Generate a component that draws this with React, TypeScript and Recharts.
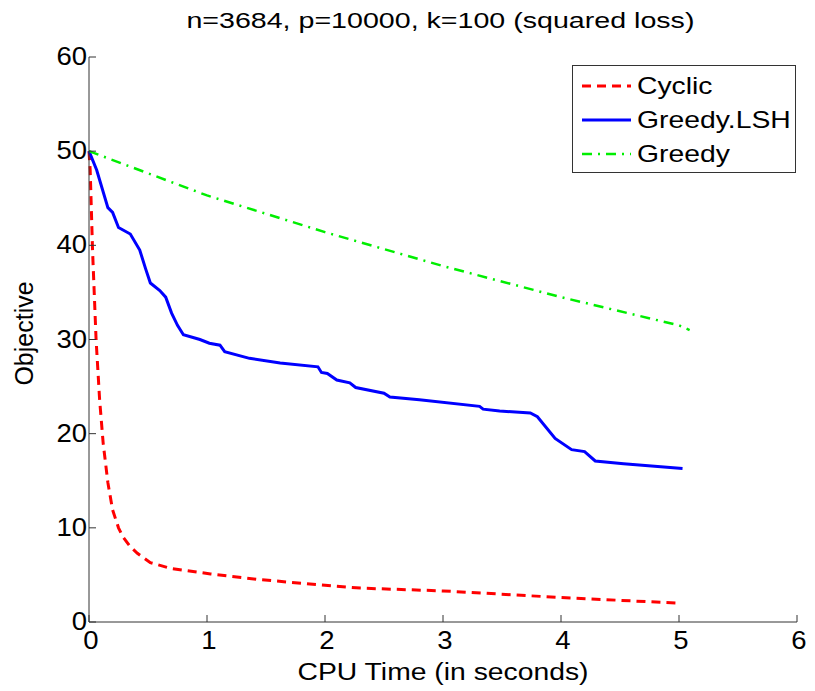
import { LineChart, Line, XAxis, YAxis, Label } from 'recharts';

const cyclicTime = [0, 0.01, 0.03, 0.06, 0.09, 0.12, 0.16, 0.2, 0.25, 0.29, 0.35, 0.41, 0.52, 0.69, 1.03, 1.45, 2.0, 2.3, 3.0, 4.0, 5.0];
const cyclicObj = [50, 48, 39.5, 30, 23.6, 19, 14.8, 11.9, 10, 9, 8, 7.3, 6.3, 5.7, 5.1, 4.5, 3.9, 3.6, 3.3, 2.6, 2.0];

const lshTime = [0, 0.065, 0.16, 0.2, 0.25, 0.35, 0.43, 0.48, 0.52, 0.6, 0.65, 0.7, 0.75, 0.8, 0.94, 1.02, 1.11, 1.15, 1.36, 1.62, 1.94, 1.97, 2.02, 2.1, 2.21, 2.26, 2.5, 2.55, 2.8, 3.31, 3.34, 3.48, 3.74, 3.8, 3.95, 4.09, 4.2, 4.29, 4.53, 5.03];
const lshObj = [50, 48, 44, 43.5, 41.9, 41.2, 39.5, 37.5, 36, 35.2, 34.5, 32.8, 31.5, 30.5, 30, 29.6, 29.4, 28.7, 28, 27.5, 27.1, 26.5, 26.4, 25.7, 25.4, 24.9, 24.3, 23.9, 23.6, 22.9, 22.6, 22.4, 22.2, 21.8, 19.5, 18.3, 18.1, 17.1, 16.8, 16.3];

const greedyTime = [0, 1, 2, 3, 4, 5, 5.09];
const greedyObj = [50, 45.3, 41.4, 37.8, 34.5, 31.5, 31];

const xTicks = [0, 1, 2, 3, 4, 5, 6];
const yTicks = [0, 10, 20, 30, 40, 50, 60];

const toRows = (xs: number[], ys: number[]) => xs.map((t, i) => ({ t, v: ys[i] }));

const series = [
    { name: 'Cyclic', color: '#ff0000', dash: '9 6', width: 3, data: toRows(cyclicTime, cyclicObj) },
    { name: 'Greedy.LSH', color: '#0000ff', dash: undefined, width: 3, data: toRows(lshTime, lshObj) },
    { name: 'Greedy', color: '#00ee00', dash: '10 6 2 6', width: 2.5, data: toRows(greedyTime, greedyObj) },
];

const font = '"Liberation Sans", Arial, sans-serif';
const stretch = 1.18; // reference text is a bit wide

function XTick({ x, y, payload }: any) {
    return (
        <text transform={`translate(${x + 2},${y + 32}) scale(1.1,1)`} textAnchor="middle" fill="#000" fontSize={25} fontFamily={font}>
            {payload.value}
        </text>
    );
}

function YTick({ x, y, payload }: any) {
    return (
        <text transform={`translate(${x - 7},${y + 8}) scale(1.1,1)`} textAnchor="end" fill="#000" fontSize={25} fontFamily={font}>
            {payload.value}
        </text>
    );
}

function XLabel({ viewBox }: any) {
    const cx = viewBox.x + viewBox.width / 2;
    return (
        <text transform={`translate(${cx},${viewBox.y + 58}) scale(${stretch},1)`} textAnchor="middle" fill="#000" fontSize={24} fontFamily={font}>
            CPU Time (in seconds)
        </text>
    );
}

function YLabel({ viewBox }: any) {
    const cy = viewBox.y + viewBox.height / 2;
    return (
        <text transform={`translate(33,${cy - 6}) rotate(-90)`} textAnchor="middle" fill="#000" fontSize={25} fontFamily={font}>
            Objective
        </text>
    );
}

function LegendBox() {
    return (
        <div style={{ position: 'absolute', left: 572, top: 65, border: '1.5px solid #333', background: '#fff', width: 224, height: 108, boxSizing: 'border-box', fontFamily: font, fontSize: 24, color: '#000', paddingTop: 3 }}>
            {series.map(s => (
                <div key={s.name} style={{ display: 'flex', alignItems: 'center', height: 34 }}>
                    <svg width={52} height={10} style={{ marginLeft: 8 }}>
                        <line x1={1} y1={5} x2={50} y2={5} stroke={s.color} strokeWidth={s.width} strokeDasharray={s.dash} />
                    </svg>
                    <span style={{ marginLeft: 4, display: 'inline-block', transform: `scaleX(${stretch})`, transformOrigin: 'left center', whiteSpace: 'nowrap' }}>{s.name}</span>
                </div>
            ))}
        </div>
    );
}

export default function App() {
    return (
        <div style={{ position: 'absolute', left: 0, top: 0, width: 815, height: 691, background: '#fff' }}>
            <div style={{ position: 'absolute', left: 0, width: 880, top: 8, textAlign: 'center', fontFamily: font, fontSize: 22, color: '#000' }}>
                <span style={{ display: 'inline-block', transform: 'scaleX(1.3)', transformOrigin: 'center', whiteSpace: 'nowrap' }}>n=3684, p=10000, k=100 (squared loss)</span>
            </div>
            <LineChart width={815} height={691} margin={{ top: 57, right: 18, bottom: 0, left: 0 }}>
                <XAxis
                    dataKey="t"
                    type="number"
                    domain={[0, 6]}
                    ticks={xTicks}
                    allowDuplicatedCategory={false}
                    height={69}
                    tickSize={-7}
                    stroke="#333"
                    tick={<XTick />}
                >
                    <Label content={<XLabel />} />
                </XAxis>
                <YAxis
                    dataKey="v"
                    type="number"
                    domain={[0, 60]}
                    ticks={yTicks}
                    width={89}
                    tickSize={-7}
                    stroke="#333"
                    tick={<YTick />}
                >
                    <Label content={<YLabel />} />
                </YAxis>
                {series.map(s => (
                    <Line
                        key={s.name}
                        name={s.name}
                        data={s.data}
                        dataKey="v"
                        type="linear"
                        stroke={s.color}
                        strokeWidth={s.width}
                        strokeDasharray={s.dash}
                        dot={false}
                        activeDot={false}
                        isAnimationActive={false}
                    />
                ))}
            </LineChart>
            <LegendBox />
        </div>
    );
}
